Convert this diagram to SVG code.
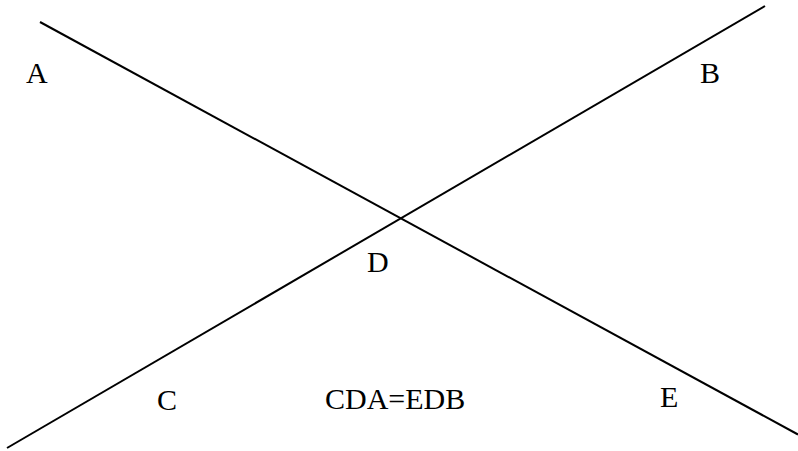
<svg xmlns="http://www.w3.org/2000/svg" width="798" height="451" viewBox="0 0 798 451">
<style>
.ln{stroke:#000;stroke-width:2;fill:none}
.lb{font-family:"Liberation Serif","Times New Roman",serif;font-size:30px;fill:#000}
</style>
<rect width="798" height="451" fill="#fff"/>
<g id="connectors">
<line class="ln" x1="40" y1="22" x2="798" y2="434.5"/>
<line class="ln" x1="7" y1="448" x2="765" y2="6"/>
</g>
<g id="A"><text class="lb" x="26" y="83">A</text></g>
<g id="B"><text class="lb" x="700" y="83">B</text></g>
<g id="C"><text class="lb" x="157" y="410">C</text></g>
<g id="D"><text class="lb" x="367" y="272">D</text></g>
<g id="E"><text class="lb" x="660" y="407">E</text></g>
<g id="eq"><text class="lb" x="325" y="409">CDA=EDB</text></g>
</svg>
